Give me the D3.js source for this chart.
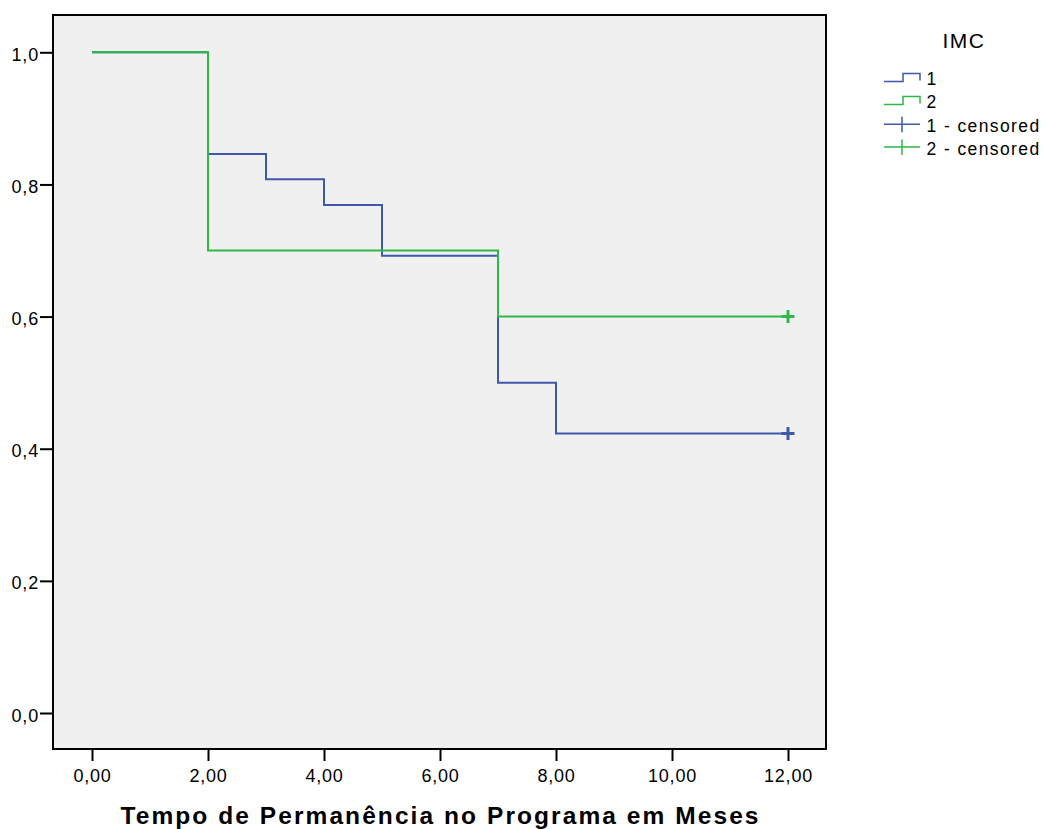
<!DOCTYPE html>
<html>
<head>
<meta charset="utf-8">
<script src="https://cdn.jsdelivr.net/npm/d3@7"></script>
<style>
  body { margin: 0; background: #fff; }
  text { font-family: "Liberation Sans", Arial, sans-serif; }
</style>
</head>
<body>
<div id="km-chart"></div>
<script>
// Kaplan-Meier estimates by IMC group
const groups = ["1", "2"];
const timesG1 = [0, 2, 3, 4, 5, 7, 8, 12];
const survG1 = [1.0, 0.846, 0.808, 0.769, 0.692, 0.5, 0.423, 0.423];
const timesG2 = [0, 2, 7, 12];
const survG2 = [1.0, 0.7, 0.6, 0.6];
const censorTimes = [12, 12];
const censorSurv = [0.423, 0.6];
const xTicks = [0, 2, 4, 6, 8, 10, 12];
const yTicks = [0, 0.2, 0.4, 0.6, 0.8, 1.0];
const legendLabels = ["1", "2", "1 - censored", "2 - censored"];

const colors = { "1": "#3E58AC", "2": "#2EB848" };

const width = 1047;
const height = 829;
const frame = { left: 53, top: 15, right: 826, bottom: 749 };

d3.select("#km-chart").selectAll("*").remove();

const svg = d3
  .select("#km-chart")
  .append("svg")
  .attr("width", width)
  .attr("height", height);

const x = d3.scaleLinear().domain([0, 12]).range([92, 788]);
const y = d3.scaleLinear().domain([0, 1]).range([713, 52.3]);

const comma = (fmt) => (d) => d3.format(fmt)(d).replace(".", ",");

svg
  .append("rect")
  .attr("x", frame.left)
  .attr("y", frame.top)
  .attr("width", frame.right - frame.left)
  .attr("height", frame.bottom - frame.top)
  .attr("fill", "#f0f0f0");

// axes
const xAxis = svg
  .append("g")
  .attr("transform", `translate(0,${frame.bottom})`)
  .call(
    d3.axisBottom(x).tickValues(xTicks).tickFormat(comma(".2f")).tickSize(12).tickSizeOuter(0).tickPadding(8)
  );
xAxis.select(".domain").remove();
xAxis.selectAll("line").attr("stroke", "#000").attr("stroke-width", 2);
xAxis
  .selectAll("text")
  .attr("fill", "#000")
  .style("font-size", "18px")
  .style("letter-spacing", "0.8px");

const yAxis = svg
  .append("g")
  .attr("transform", `translate(${frame.left},0)`)
  .call(
    d3.axisLeft(y).tickValues(yTicks).tickFormat(comma(".1f")).tickSize(13).tickSizeOuter(0).tickPadding(1)
  );
yAxis.select(".domain").remove();
yAxis.selectAll("line").attr("stroke", "#000").attr("stroke-width", 2);
yAxis
  .selectAll("text")
  .attr("fill", "#000")
  .attr("dy", "0.45em")
  .style("font-size", "18px")
  .style("letter-spacing", "0.8px");

// survival curves
const line = d3
  .line()
  .x((d) => x(d[0]))
  .y((d) => y(d[1]))
  .curve(d3.curveStepAfter);

const series = [
  { key: "1", pts: d3.zip(timesG1, survG1) },
  { key: "2", pts: d3.zip(timesG2, survG2) },
];

svg
  .selectAll(".curve")
  .data(series)
  .enter()
  .append("path")
  .attr("class", "curve")
  .attr("d", (d) => line(d.pts))
  .attr("fill", "none")
  .attr("stroke", (d) => colors[d.key])
  .attr("stroke-width", 2);

// censored marks
const cross = (cx, cy, r) => `M${cx - r},${cy}H${cx + r}M${cx},${cy - r}V${cy + r}`;
svg
  .selectAll(".censor")
  .data(groups.map((g, i) => ({ key: g, t: censorTimes[i], s: censorSurv[i] })))
  .enter()
  .append("path")
  .attr("class", "censor")
  .attr("d", (d) => cross(x(d.t), y(d.s), 6.5))
  .attr("fill", "none")
  .attr("stroke", (d) => colors[d.key])
  .attr("stroke-width", 3);

// frame border on top
svg
  .append("rect")
  .attr("x", frame.left)
  .attr("y", frame.top)
  .attr("width", frame.right - frame.left)
  .attr("height", frame.bottom - frame.top)
  .attr("fill", "none")
  .attr("stroke", "#000")
  .attr("stroke-width", 2);

// axis title
svg
  .append("text")
  .attr("x", (frame.left + frame.right) / 2)
  .attr("y", 823.5)
  .attr("text-anchor", "middle")
  .attr("textLength", 638)
  .attr("lengthAdjust", "spacing")
  .style("font-size", "24.5px")
  .style("font-weight", "bold")
  .text("Tempo de Permanência no Programa em Meses");

// legend
const legend = svg.append("g");
legend
  .append("text")
  .attr("x", 964)
  .attr("y", 48)
  .attr("text-anchor", "middle")
  .style("font-size", "21px")
  .style("letter-spacing", "1.5px")
  .text("IMC");

const rowY = [85, 108, 131.7, 154.5];
legendLabels.forEach((label, i) => {
  const key = groups[i % 2];
  const base = rowY[i];
  let d;
  if (i < 2) {
    d = `M884,${base - 3.5}H903V${base - 11.5}H920V${base - 4.5}`;
  } else {
    d = `M884,${base - 7.5}H920M902,${base - 15}V${base + 0.5}`;
  }
  legend
    .append("path")
    .attr("d", d)
    .attr("fill", "none")
    .attr("stroke", colors[key])
    .attr("stroke-width", 1.5);
  legend
    .append("text")
    .attr("x", 926.5)
    .attr("y", base)
    .style("font-size", "17.5px")
    .style("letter-spacing", "1.4px")
    .text(label);
});
</script>
</body>
</html>
